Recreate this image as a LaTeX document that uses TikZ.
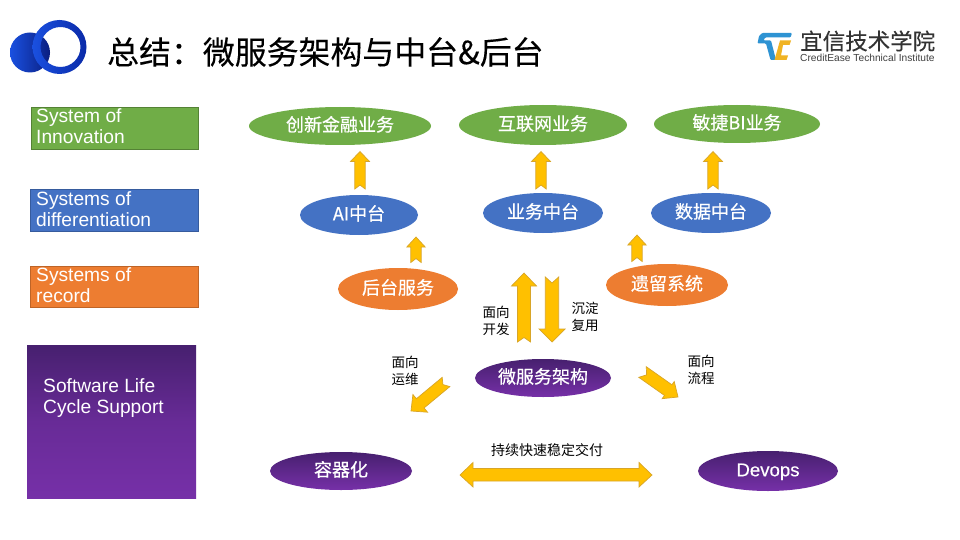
\documentclass[tikz,border=0pt]{standalone}
\usepackage{fontspec}
\setmainfont{Liberation Sans}
\newfontfamily\cjk{Noto Sans CJK SC}
\newfontfamily\cjkb{Noto Sans CJK SC}[FakeBold=0.5]
\newfontfamily\cjkt{Noto Sans CJK SC}[FakeBold=0.2]
\newfontfamily\sansb{Liberation Sans}[FakeBold=0.3]
\usetikzlibrary{calc,shapes.geometric}
\definecolor{cgreen}{HTML}{70AD47}
\definecolor{cblue}{HTML}{4472C4}
\definecolor{corange}{HTML}{ED7D31}
\definecolor{cpurpleA}{HTML}{47206F}
\definecolor{cpurpleB}{HTML}{7630A8}
\definecolor{cgold}{HTML}{FFC000}
\definecolor{cgoldline}{HTML}{D8A528}
\definecolor{logoA}{HTML}{1A50E0}
\definecolor{logoB}{HTML}{0A2AA8}
\definecolor{logoC}{HTML}{0A1E80}
\definecolor{tcblue}{HTML}{2E93D3}
\definecolor{tcyellow}{HTML}{F0B323}
\tikzset{
  x=1pt,y=-1pt,
  oval/.style={ellipse,inner sep=0pt,text=white,text height=14pt,text depth=3.4pt,font=\cjkb\fontsize{18}{20}\selectfont},
  band/.style={rectangle,inner sep=0pt,anchor=north west},
  bandtext/.style={anchor=north west,inner sep=0pt,text=white,align=left,font=\fontsize{19.2}{21}\selectfont},
  small/.style={inner sep=0pt,align=center,text=black,font=\cjk\fontsize{13.5}{16.5}\selectfont},
  blockarrow/.style={fill=cgold,draw=cgoldline,line width=0.7pt,line join=miter}
}
% tail, tip, half body, half head, head length, notch
\newcommand{\blockarrow}[6]{%
  \coordinate (hb) at ($(#2)!#5pt!(#1)$);
  \draw[blockarrow] (#2)
    -- ($(hb)!#4pt!90:(#2)$) -- ($(hb)!#3pt!90:(#2)$)
    -- ($(#1)!#3pt!90:(#2)$) -- ($(#1)!#6pt!(#2)$)
    -- ($(#1)!#3pt!-90:(#2)$) -- ($(hb)!#3pt!-90:(#2)$)
    -- ($(hb)!#4pt!-90:(#2)$) -- cycle;}
\begin{document}
\begin{tikzpicture}
\useasboundingbox (0,0) rectangle (960,540);
\fill[white] (0,0) rectangle (960,540);
% logo
\shade[left color=logoA,right color=logoC] (30,52.5) circle (20);
\shade[left color=logoA,right color=logoB,even odd rule] (59.5,47) circle (27) (60.5,47) circle (20);
% title
\node[anchor=west,inner sep=0pt,text=black,font=\cjkt\fontsize{31.9}{34}\selectfont] (title) at (107,52) {总结：微服务架构与中台\&后台};
% TC logo
\fill[tcblue,rounded corners=1pt] (762,33) -- (792,33) -- (790.5,37.5) -- (765,37.5) -- (763.5,40.5) -- (771,40.5) -- (776,60) -- (770.5,60) -- (766,43.5) -- (757.5,43.5) -- (759,36) -- cycle;
\fill[tcyellow] (780,40.5) -- (791,40.5) -- (789.5,45) -- (783,45) -- (781,55.5) -- (788,55.5) -- (786.5,60) -- (774.5,60) -- cycle;
\node[anchor=west,inner sep=0pt,text=black!80,font=\cjkt\fontsize{22.5}{24}\selectfont] (brand) at (800,41) {宜信技术学院};
\node[anchor=west,inner sep=0pt,text=black!75,font=\fontsize{10.2}{11}\selectfont] (brandEn) at (800,58) {CreditEase Technical Institute};
% left bands
\node[band,fill=cgreen,draw=cgreen!75!black,minimum width=167pt,minimum height=42pt] (b1) at (31,107) {};
\node[bandtext] (t1) at (36,108.5) {System of\\Innovation};
\node[band,fill=cblue,draw=cblue!80!black,minimum width=168pt,minimum height=42pt] (b2) at (30,189) {};
\node[bandtext] (t2) at (36,191) {Systems of\\differentiation};
\node[band,fill=corange,draw=corange!80!black,minimum width=168pt,minimum height=41pt] (b3) at (30,266) {};
\node[bandtext] (t3) at (36,267) {Systems of\\record};
\node[band,top color=cpurpleA,bottom color=cpurpleB,middle color=cpurpleB!70!cpurpleA,minimum width=169pt,minimum height=153pt] (b4) at (27,345) {};
\node[bandtext] (t4) at (43,378) {Software Life\\Cycle Support};
% ovals
\node[oval,fill=cgreen,minimum width=182pt,minimum height=38pt] (n1) at (340,126) {创新金融业务};
\node[oval,fill=cgreen,minimum width=168pt,minimum height=40pt] (n2) at (543,125) {互联网业务};
\node[oval,fill=cgreen,minimum width=166pt,minimum height=38pt] (n3) at (737,124) {敏捷BI业务};
\node[oval,fill=cblue,minimum width=118pt,minimum height=40pt] (m1) at (359,215) {AI中台};
\node[oval,fill=cblue,minimum width=120pt,minimum height=40pt] (m2) at (543,213) {业务中台};
\node[oval,fill=cblue,minimum width=120pt,minimum height=40pt] (m3) at (711,213) {数据中台};
\node[oval,fill=corange,minimum width=120pt,minimum height=42pt] (l1) at (398,289) {后台服务};
\node[oval,fill=corange,minimum width=122pt,minimum height=42pt] (l2) at (667,285) {遗留系统};
\node[oval,top color=cpurpleA,bottom color=cpurpleB,minimum width=136pt,minimum height=38pt] (c) at (543,378) {微服务架构};
\node[oval,top color=cpurpleA,bottom color=cpurpleB,minimum width=142pt,minimum height=38pt] (d1) at (341,471) {容器化};
\node[oval,top color=cpurpleA,bottom color=cpurpleB,minimum width=140pt,minimum height=40pt,font=\sansb\fontsize{18.6}{20}\selectfont] (d2) at (768,471) {Devops};
% arrows
\coordinate (a1s) at (360,189); \coordinate (a1e) at (360,151.5);
\coordinate (a2s) at (541,189); \coordinate (a2e) at (541,151.5);
\coordinate (a3s) at (713,189); \coordinate (a3e) at (713,151.5);
\coordinate (a4s) at (416,262.5); \coordinate (a4e) at (416,237);
\coordinate (a5s) at (637,261.5); \coordinate (a5e) at (637,235);
\coordinate (a6s) at (524,342); \coordinate (a6e) at (524,273);
\coordinate (a7s) at (552,277); \coordinate (a7e) at (552,342);
\coordinate (a8s) at (446,382); \coordinate (a8e) at (411,411);
\coordinate (a9s) at (642.5,372); \coordinate (a9e) at (678,397);
\blockarrow{a1s}{a1e}{5.2}{9.5}{10}{4}
\blockarrow{a2s}{a2e}{5.2}{9.5}{10}{4}
\blockarrow{a3s}{a3e}{5.2}{9.5}{10}{4}
\blockarrow{a4s}{a4e}{5.2}{9.2}{10}{4}
\blockarrow{a5s}{a5e}{5.2}{9.2}{10}{4}
\blockarrow{a6s}{a6e}{6.5}{12.5}{13}{4.5}
\blockarrow{a7s}{a7e}{6.7}{13}{13}{6}
\blockarrow{a8s}{a8e}{6}{11.5}{12}{4}
\blockarrow{a9s}{a9e}{6.5}{10.5}{12}{5}
\draw[blockarrow] (460,475) -- (473,462.5) -- (473,468.5) -- (639,468.5) -- (639,462.5) -- (652,475) -- (639,487) -- (639,481) -- (473,481) -- (473,487) -- cycle;
% labels
\node[small] (s1) at (496,321) {面向\\开发};
\node[small] (s2) at (585,317) {沉淀\\复用};
\node[small] (s3) at (405,371) {面向\\运维};
\node[small] (s4) at (701,370) {面向\\流程};
\node[small,font=\cjk\fontsize{14}{16}\selectfont] (s5) at (547,450) {持续快速稳定交付};
\end{tikzpicture}
\end{document}
